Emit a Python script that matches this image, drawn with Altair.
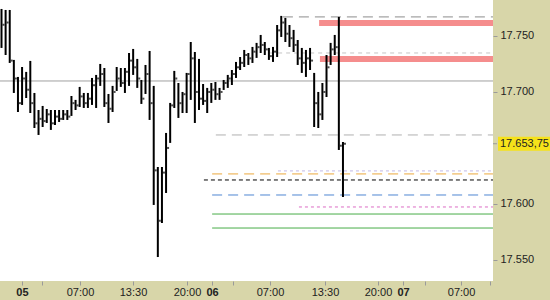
import altair as alt
import pandas as pd

# ---- OHLC-style bars (price in index points) ----
bar_high = [17774.1, 17773.2, 17773.2, 17728.6, 17713.4, 17722.3, 17717.9, 17727.7, 17699.1, 17683.9,
            17687.5, 17684.8, 17683.9, 17683.9, 17683.9, 17683.9, 17683.9, 17696.4, 17692.9, 17704.5,
            17699.1, 17699.1, 17712.5, 17715.2, 17725.0, 17721.4, 17698.2, 17705.4, 17722.3, 17721.4,
            17721.4, 17734.8, 17738.4, 17729.5, 17710.7, 17724.1, 17736.6, 17705.4, 17633.0, 17633.0,
            17663.4, 17690.2, 17718.8, 17708.0, 17700.0, 17717.0, 17744.6, 17735.7, 17729.5, 17707.1,
            17703.6, 17708.0, 17708.9, 17703.6, 17710.7, 17715.2, 17719.6, 17726.8, 17731.2, 17737.5,
            17734.8, 17740.2, 17743.8, 17750.9, 17744.6, 17739.3, 17740.2, 17759.8, 17767.9, 17766.1,
            17759.8, 17755.4, 17746.4, 17739.3, 17737.5, 17739.3, 17717.0, 17700.0, 17708.0, 17733.0,
            17743.8, 17750.9, 17767.0, 17655.3]
bar_low = [17739.3, 17733.0, 17725.9, 17699.1, 17682.1, 17688.4, 17694.6, 17681.2, 17667.8, 17661.6,
           17668.7, 17672.3, 17666.1, 17670.5, 17673.2, 17675.0, 17675.0, 17678.6, 17683.9, 17686.6,
           17685.7, 17685.7, 17688.4, 17685.7, 17705.4, 17686.6, 17672.3, 17682.1, 17700.9, 17704.5,
           17699.1, 17705.4, 17715.2, 17703.6, 17689.3, 17698.2, 17675.0, 17599.1, 17552.6, 17583.0,
           17609.8, 17654.5, 17685.7, 17676.8, 17681.2, 17681.2, 17692.9, 17672.3, 17683.9, 17688.4,
           17681.2, 17690.2, 17692.9, 17692.9, 17701.8, 17703.6, 17706.2, 17712.5, 17719.6, 17722.3,
           17724.1, 17725.9, 17730.4, 17734.8, 17733.0, 17728.6, 17726.8, 17731.2, 17749.1, 17744.6,
           17740.2, 17735.7, 17724.1, 17717.0, 17713.4, 17719.6, 17668.7, 17667.8, 17675.0, 17695.5,
           17724.1, 17733.0, 17648.2, 17606.2]
bar_close = [17760, 17762, 17728, 17712, 17690, 17712, 17702, 17690, 17672, 17676,
             17674, 17680, 17672, 17678, 17676, 17680, 17678, 17690, 17688, 17696,
             17690, 17694, 17706, 17712, 17716, 17690, 17685, 17700, 17712, 17708,
             17718, 17728, 17722, 17712, 17694, 17716, 17690, 17630, 17585, 17628,
             17650, 17688, 17712, 17690, 17698, 17716, 17730, 17700, 17694, 17692,
             17700, 17702, 17698, 17700, 17708, 17712, 17716, 17722, 17726, 17733,
             17730, 17736, 17740, 17742, 17738, 17732, 17736, 17755, 17762, 17752,
             17748, 17742, 17730, 17726, 17730, 17728, 17690, 17680, 17700, 17722,
             17738, 17740, 17652, 17653.75]

# ---- horizontal levels ----
level_price = [17709.8, 17767.0, 17734.8, 17661.6, 17626.8, 17629.5, 17621.4, 17608.0, 17597.3, 17591.0, 17578.5]
level_start = [-0.365, 68.4, 65.3, 52.1, 51.2, 67.2, 49.2, 51.2, 72.3, 51.2, 51.2]
level_color = ["#a0a0a0", "#8c8c8c", "#c4c4c4", "#b0b0b0", "#eba93e", "#c2b8e4",
               "#000000", "#4f86d2", "#dc6cc4", "#48ac48", "#48ac48"]
level_dash = [None, [10, 6], [4, 4], [10, 6], [10, 6], [3, 3], [4, 3], [10, 6], [3, 3], None, None]

band_lo = [17758.9, 17726.8]
band_hi = [17764.3, 17732.1]
band_start = [77.2, 77.4]

cur_price = 17653.75
cur_label = "17.653,75"

x_tick_pos = [4.98, 9.84, 19.08, 31.96, 45.09, 51.17, 56.27, 65.27, 78.63, 91.52, 97.6, 102.9, 111.7, 118.7]
x_tick_lab = ["05", "", "07:00", "13:30", "20:00", "06", "", "07:00", "13:30", "20:00", "07", "", "07:00", ""]
day_pos = [4.98, 51.17, 97.6]
y_ticks = [17550, 17600, 17700, 17750]

X_DOM = [-0.365, 119.47]
Y_DOM = [17531.2, 17782.1]
FONT = "Liberation Sans"

xs = alt.Scale(domain=X_DOM, nice=False, zero=False)
ys = alt.Scale(domain=Y_DOM, nice=False, zero=False)

df = pd.DataFrame({"i": list(range(len(bar_high))), "high": bar_high, "low": bar_low, "close": bar_close})

pos_js = "[" + ",".join(str(p) for p in x_tick_pos) + "]"
lab_js = "[" + ",".join("'" + s + "'" for s in x_tick_lab) + "]"
bold_test = " || ".join("datum.value == %s" % p for p in day_pos)

x_axis = alt.Axis(values=x_tick_pos, labelExpr=lab_js + "[indexof(" + pos_js + ", datum.value)]",
                  orient="bottom", title=None, grid=False, domain=False, tickSize=4, tickColor="#9a9a9a",
                  labelFont=FONT, labelFontSize=11, labelColor="#222222", labelPadding=1,
                  labelFlush=False, labelOverlap=False,
                  labelFontWeight={"condition": {"test": bold_test, "value": "bold"}, "value": "normal"})
y_axis = alt.Axis(values=y_ticks, labelExpr="format(datum.value/1000, '.3f')", orient="right",
                  title=None, grid=False, domain=False, tickSize=4, tickColor="#9a9a9a",
                  labelFont=FONT, labelFontSize=11, labelColor="#222222", labelPadding=3,
                  labelOverlap=False)


def X(f):
    return alt.X(f, scale=xs, axis=x_axis)


def Y(f):
    return alt.Y(f, scale=ys, axis=y_axis)


layers = []

bands = pd.DataFrame({"start": band_start, "end": [X_DOM[1]] * 2, "lo": band_lo, "hi": band_hi})
layers.append(alt.Chart(bands).mark_rect(color="#f58d8d").encode(
    x=X("start:Q"), x2="end:Q", y=Y("lo:Q"), y2="hi:Q"))

for p, s, c, d in zip(level_price, level_start, level_color, level_dash):
    ldf = pd.DataFrame({"p": [p], "s": [s], "e": [X_DOM[1]]})
    kw = dict(color=c, strokeWidth=1)
    if d:
        kw["strokeDash"] = d
    layers.append(alt.Chart(ldf).mark_rule(**kw).encode(x=X("s:Q"), x2="e:Q", y=Y("p:Q")))

layers.append(alt.Chart(df).mark_rule(color="black", strokeWidth=2).encode(
    x=X("i:Q"), y=Y("low:Q"), y2="high:Q"))

layers.append(alt.Chart(df).mark_tick(color="black", orient="horizontal", size=2, thickness=2, xOffset=2).encode(
    x=X("i:Q"), y=Y("close:Q")))

cur = pd.DataFrame({"p": [cur_price], "lo": [cur_price - 6.3], "hi": [cur_price + 6.3], "t": [cur_label]})
layers.append(alt.Chart(cur).mark_rect(color="#f6e21a").encode(
    x=alt.value(498), x2=alt.value(551), y=Y("lo:Q"), y2="hi:Q"))
layers.append(alt.Chart(cur).mark_rule(color="#9a9a9a").encode(
    x=alt.value(493), x2=alt.value(497), y=Y("p:Q")))
layers.append(alt.Chart(cur).mark_text(align="left", baseline="middle", font=FONT, fontSize=11,
                                       color="#222222").encode(
    x=alt.value(500), y=Y("p:Q"), text="t:N"))

chart = alt.layer(*layers).properties(
    width=493, height=281, background="#d8d6a9",
    padding={"left": 0, "top": 0, "right": 57, "bottom": 19},
    autosize=alt.AutoSizeParams(type="none")
).configure_view(fill="white", strokeWidth=0)

chart.save("out.html", embed_options={"renderer": "svg", "actions": False})
